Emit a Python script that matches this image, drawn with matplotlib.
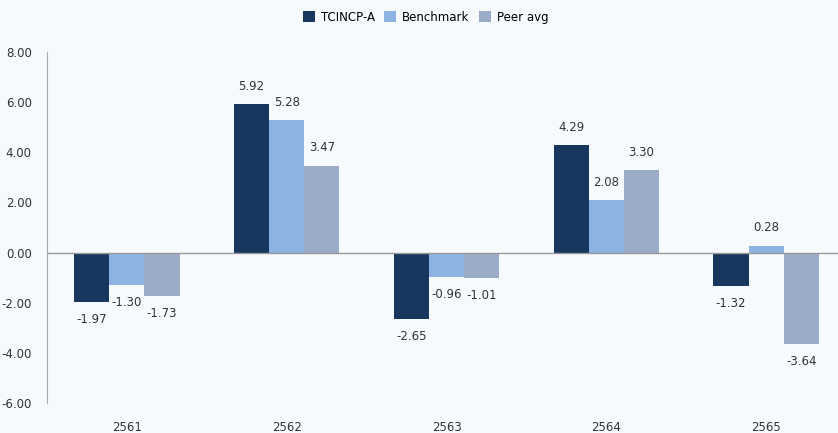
import matplotlib.pyplot as plt
import numpy as np

years = ["2561", "2562", "2563", "2564", "2565"]
fund = [-1.97, 5.92, -2.65, 4.29, -1.32]
bench = [-1.30, 5.28, -0.96, 2.08, 0.28]
peer = [-1.73, 3.47, -1.01, 3.30, -3.64]
series = ["TCINCP-A", "Benchmark", "Peer avg"]
colors = ["#17375e", "#8db3e2", "#9aabc8"]

bg = "#f7fafd"
fig = plt.figure(figsize=(8.38, 4.33), dpi=100, facecolor=bg)
ax = fig.add_axes([47/838, 30/433, 799/838, 351/433], facecolor=bg)

x = np.arange(len(years))
w = 0.22
for i, (vals, name, c) in enumerate(zip([fund, bench, peer], series, colors)):
    bars = ax.bar(x + (i - 1) * w, vals, w, color=c, label=name)
    for b, v in zip(bars, vals):
        off = 8 if v >= 0 else -8
        ax.annotate(f"{v:.2f}", (b.get_x() + b.get_width() / 2, v),
                    xytext=(0, off), textcoords="offset points",
                    ha="center", va="bottom" if v >= 0 else "top",
                    fontsize=8.5, color="#333333")

ax.set_xlim(-0.5, 4.5)
ax.set_ylim(-6, 8)
ax.set_yticks(np.arange(-6, 9, 2))
ax.set_yticklabels([f"{t:.2f}" for t in np.arange(-6, 9, 2)])
ax.set_xticks(x)
ax.set_xticklabels(years)
ax.tick_params(length=0, labelsize=8.5, colors="#333333")
ax.tick_params(axis="x", pad=13)
ax.tick_params(axis="y", pad=11)
for s in ["top", "right", "bottom"]:
    ax.spines[s].set_visible(False)
ax.spines["left"].set_color("#aaaaaa")
ax.axhline(0, color="#999999", lw=1)

fig.legend(loc="upper center", bbox_to_anchor=(0.508, 1.0), ncol=3, frameon=False,
           fontsize=8.5, handlelength=1, handleheight=1, columnspacing=0.8,
           handletextpad=0.5)

fig.savefig("out.png", dpi=100, facecolor=bg)
